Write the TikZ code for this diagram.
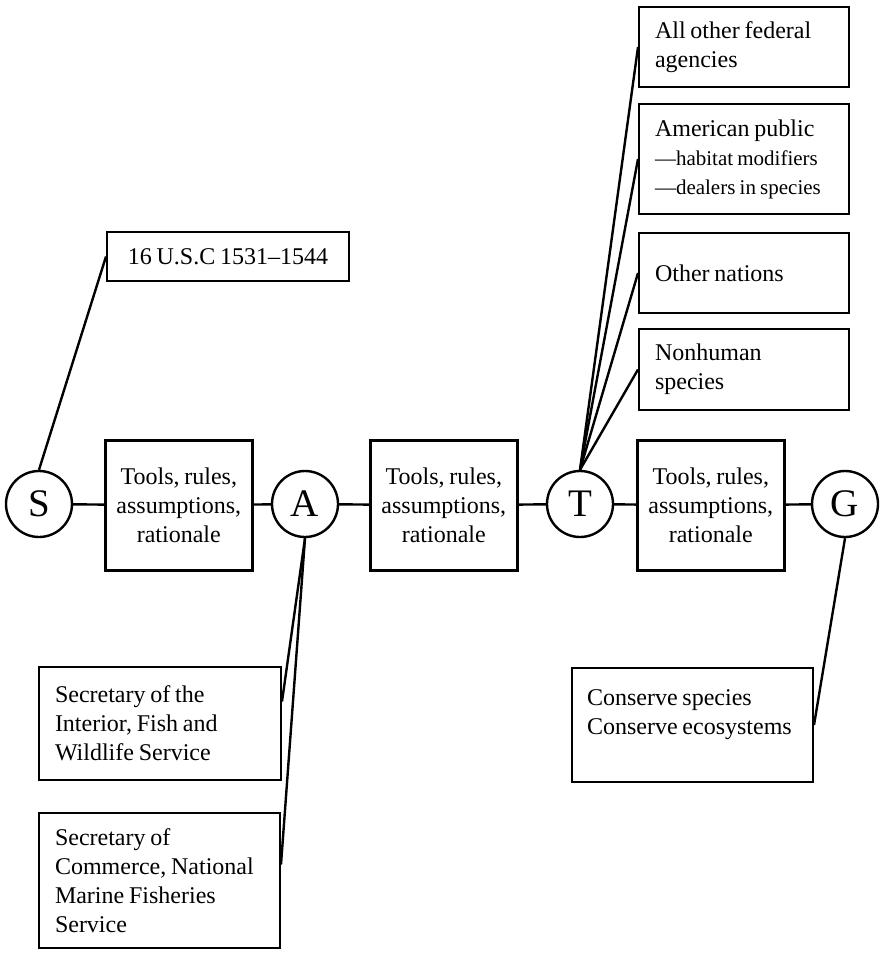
\documentclass[tikz,border=0pt]{standalone}
\usepackage{fontspec}
\setmainfont{Liberation Serif}[WordSpace=0.8]
\usetikzlibrary{calc}

\begin{document}
\begin{tikzpicture}[x=1pt,y=-1pt,
    state/.style={draw,circle,line width=2.4pt,minimum size=66pt,inner sep=0pt,font=\fontsize{39}{44}\selectfont},
    tools/.style={draw,line width=2.6pt,anchor=north west,align=flush center,text width=135pt,inner xsep=6pt,minimum height=130pt,font=\fontsize{24}{29}\selectfont},
    item/.style={draw,line width=2pt,anchor=north west,align=flush left,inner xsep=16pt,font=\fontsize{24}{29}\selectfont},
    link/.style={line width=2.4pt}]
  \useasboundingbox (0,0) rectangle (879,957);

  \node[state] (S) at (39,504) {S};
  \node[state] (A) at (305,504) {A};
  \node[state] (T) at (580,504) {T};
  \node[state] (G) at (845,504) {G};

  \node[tools] (b1) at (104,439) {Tools, rules,\\assumptions,\\rationale};
  \node[tools] (b2) at (369,439) {Tools, rules,\\assumptions,\\rationale};
  \node[tools] (b3) at (636,439) {Tools, rules,\\assumptions,\\rationale};

  \node[item,inner xsep=8pt,minimum width=242pt,minimum height=49pt] (usc) at (106,231) {16 U.S.C 1531--1544};

  \node[item,text width=178pt,minimum height=80pt] (fed) at (638,6) {All other federal\\agencies};
  \node[item,text width=178pt,minimum height=110pt] (amer) at (638,103) {American public\\{\fontsize{21}{24}\selectfont ---habitat modifiers}\\{\fontsize{21}{24}\selectfont ---dealers in species}};
  \node[item,text width=178pt,minimum height=80pt] (nat) at (638,232) {Other nations};
  \node[item,text width=178pt,minimum height=81pt] (nh) at (638,328) {Nonhuman\\species};

  \node[item,text width=210pt,minimum height=113pt] (int) at (38,666) {Secretary of the\\Interior, Fish and\\Wildlife Service};
  \node[item,text width=209pt,minimum height=135pt] (com) at (38,812) {Secretary of\\Commerce, National\\Marine Fisheries\\Service};

  \node[item,text width=211pt,inner xsep=15pt,minimum height=114pt,text depth=54pt] (cons) at (571,667) {Conserve species\\Conserve ecosystems};

  \foreach \a/\b in {S/b1,b1/A,A/b2,b2/T,T/b3,b3/G}
    \draw[link] (\a) -- (\b);

  \draw[link] (S.north) -- (usc.west);
  \draw[link] (A.south) -- ([yshift=22pt]int.east);
  \draw[link] (A.south) -- ([yshift=16pt]com.east);
  \foreach \b in {fed,amer,nat,nh}
    \draw[link] (T.north) -- (\b.west);
  \draw[link] (G.south) -- (cons.east);
\end{tikzpicture}
\end{document}
